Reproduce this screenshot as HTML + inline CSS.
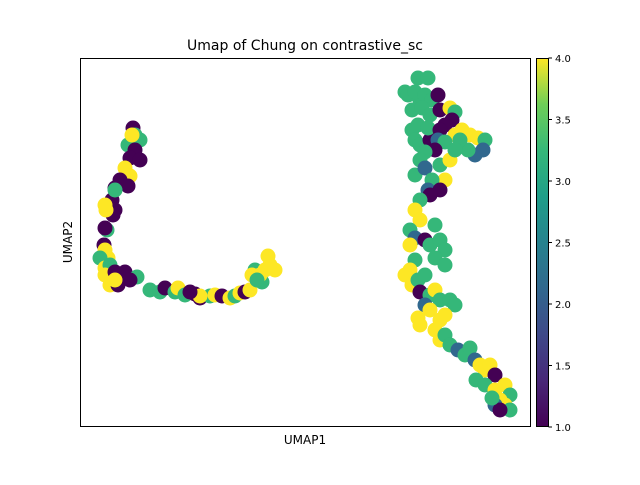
<!DOCTYPE html>
<html><head><meta charset="utf-8"><style>
body{margin:0;background:#fff;}
svg text{font-family:"DejaVu Sans","Liberation Sans",sans-serif;}
</style></head><body>
<svg width="640" height="480">
<defs><linearGradient id="vir" x1="0" y1="1" x2="0" y2="0">
<stop offset="0" stop-color="#440154"/><stop offset="0.125" stop-color="#482878"/><stop offset="0.25" stop-color="#3e4989"/><stop offset="0.375" stop-color="#31688e"/><stop offset="0.5" stop-color="#26828e"/><stop offset="0.625" stop-color="#1f9e89"/><stop offset="0.75" stop-color="#35b779"/><stop offset="0.875" stop-color="#6ece58"/><stop offset="1" stop-color="#fde725"/>
</linearGradient><clipPath id="pc"><rect x="80" y="58" width="451" height="369"/></clipPath></defs>
<text x="305" y="50" font-size="14" text-anchor="middle">Umap of Chung on contrastive_sc</text>
<g id="pts" clip-path="url(#pc)"></g>
<rect x="80.5" y="58.5" width="450" height="368" fill="none" stroke="#000" stroke-width="1"/>
<text x="305" y="444" font-size="12" text-anchor="middle">UMAP1</text>
<text x="72" y="242" font-size="12" text-anchor="middle" transform="rotate(-90 72 242)">UMAP2</text>
<rect x="536.5" y="58.5" width="12" height="368" fill="url(#vir)" stroke="#000" stroke-width="1"/>
<g id="cb"></g>
</svg>
<script>
const xs=[53,55,48,60,52,55,50,45,50,60,40,35,48,32,35,33,26,25,35,27,24,25,28,20,25,30,25,35,30,38,45,35,57,50,70,80,85,95,98,105,115,120,130,135,142,150,155,160,165,170,175,182,185,190,195,188,180,172,177,120,110,25,
325,340,332,335,340,350,
338,348,328,335,345,352,358,332,342,350,338,348,360,370,375,372,365,360,358,375,382,390,398,405,403,395,388,380,365,355,345,340,335,345,360,370,375,365,352,348,360,350,340,335,340,330,335,330,345,355,350,360,365,355,365,335,330,325,332,338,345,340,350,355,360,370,375,345,350,338,340,360,365,355,360,365,370,378,385,390,395,400,405,410,415,396,405,415,425,430,420,425,415,430,420,412];
const ys=[299,292,282,287,292,277,269,259,251,267,247,239,241,227,217,212,217,222,237,197,182,177,169,169,159,162,152,155,142,142,155,147,150,147,137,135,139,135,139,132,133,129,131,132,131,129,131,134,135,137,157,145,157,162,157,171,152,152,147,131,135,199,
335,327,297,287,282,287,
349,349,332,335,332,327,332,317,319,312,302,299,317,319,315,307,302,297,287,292,297,292,289,287,277,272,277,287,285,277,275,267,252,259,262,267,277,247,247,237,237,232,227,217,207,197,189,182,187,202,182,187,177,169,162,167,157,152,142,147,152,135,132,137,127,127,122,122,117,109,102,107,112,97,87,92,82,77,72,79,67,62,57,62,52,47,42,37,42,32,27,22,22,17,17,29];
const vals=[1,3,3,3,4,1,1,4,4,1,1,1,1,1,1,1,4,4,3,3,1,4,4,3,4,3,4,1,4,1,1,4,3,1,3,3,1,3,4,3,1,1,3,4,1,4,3,4,1,4,3,3,4,4,4,4,4,4,3,4,1,1,
3,3,3,3,3,1,
3,3,3,3,3,3,1,3,3,3, 3,3,1,4,3,1,1,1,2,4, 4,4,4,3,2,2,3,3,3,1, 3,3,3,2,3,4,3,4,3,2, 1,1,3,4,4,3,2,4,1,3, 3,3,3,3,3,3,4,4,4,3, 3,1,3,4,3,3,3,2,4,4, 4,4,4,4,4,3,3,2,3,3, 2,4,4,4,1,3,3,4,4,3, 4,4,2,3,1,3];
const cbTicks=[1.0,1.5,2.0,2.5,3.0,3.5,4.0];
const X=v=>80+v, Y=v=>427-v, CB=v=>427-(v-1)/3*369;
const cols={1:'#440154',2:'#31688e',3:'#35b779',4:'#fde725'};
const ns='http://www.w3.org/2000/svg', g=document.getElementById('pts');
xs.forEach((x,i)=>{const c=document.createElementNS(ns,'circle');
c.setAttribute('cx',X(x));c.setAttribute('cy',Y(ys[i]));c.setAttribute('r',7.5);c.setAttribute('fill',cols[vals[i]]||'#35b779');


g.appendChild(c);});
const cb=document.getElementById('cb');
cbTicks.forEach(t=>{const y=CB(t);
const l=document.createElementNS(ns,'line');l.setAttribute('x1',548.5);l.setAttribute('x2',552);l.setAttribute('y1',y);l.setAttribute('y2',y);l.setAttribute('stroke','#000');


cb.appendChild(l);
const tx=document.createElementNS(ns,'text');tx.setAttribute('x',555);tx.setAttribute('y',y+4);tx.setAttribute('font-size','10');tx.textContent=t.toFixed(1);


cb.appendChild(tx);});
</script>
</body></html>
